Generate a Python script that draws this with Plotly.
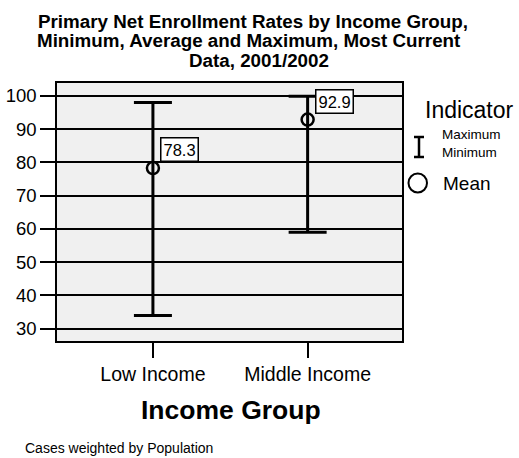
import plotly.graph_objects as go

# Primary net enrollment rates by income group (most current data, 2001/2002)
income_groups = ["Low Income", "Middle Income"]
minimum = [34.0, 59.0]
mean = [78.3, 92.9]
maximum = [98.0, 99.9]

W, H = 519, 458
M_L, M_R, M_T, M_B = 57, 117, 83, 117
PW, PH = W - M_L - M_R, H - M_T - M_B
FONT = "Arial, 'Liberation Sans', sans-serif"


def px_x(px):
    """Horizontal pixel position -> paper coordinate."""
    return (px - M_L) / PW


def px_y(py):
    """Vertical pixel position (from top) -> paper coordinate."""
    return (H - M_B - py) / PH


fig = go.Figure()

fig.add_trace(go.Scatter(
    x=income_groups,
    y=mean,
    mode="markers",
    marker=dict(symbol="circle-open", size=12, color="black",
                line=dict(width=2.5, color="black")),
    error_y=dict(
        type="data",
        symmetric=False,
        array=[mx - m for mx, m in zip(maximum, mean)],
        arrayminus=[m - mn for m, mn in zip(mean, minimum)],
        color="black",
        thickness=3,
        width=19,
    ),
    showlegend=False,
    hoverinfo="skip",
))

# value labels beside each mean
for g, m in zip(income_groups, mean):
    fig.add_annotation(
        x=g, y=m, xref="x", yref="y",
        text=f"{m:.1f}", showarrow=False,
        xanchor="left", yanchor="bottom", xshift=7, yshift=6,
        font=dict(family=FONT, size=16.5, color="black"),
        bgcolor="white", bordercolor="black", borderwidth=1.5, borderpad=2,
    )

# title, written line by line
title_lines = [
    ("Primary Net Enrollment Rates by Income Group,", 253, 21),
    ("Minimum, Average and Maximum, Most Current", 249, 40.5),
    ("Data, 2001/2002", 259, 60),
]
for txt, cx, cy in title_lines:
    fig.add_annotation(
        x=px_x(cx), y=px_y(cy), xref="paper", yref="paper",
        text=f"<b>{txt}</b>", showarrow=False,
        xanchor="center", yanchor="middle",
        font=dict(family=FONT, size=18.8, color="black"),
    )

# axis title
fig.add_annotation(
    x=px_x(231), y=px_y(410), xref="paper", yref="paper",
    text="<b>Income Group</b>", showarrow=False,
    xanchor="center", yanchor="middle",
    font=dict(family=FONT, size=26.5, color="black"),
)

# footnote
fig.add_annotation(
    x=px_x(23), y=px_y(448), xref="paper", yref="paper",
    text="Cases weighted by Population", showarrow=False,
    xanchor="left", yanchor="middle",
    font=dict(family=FONT, size=14, color="black"),
)

# legend block
fig.add_annotation(
    x=px_x(423), y=px_y(110), xref="paper", yref="paper",
    text="Indicator", showarrow=False, xanchor="left", yanchor="middle",
    font=dict(family=FONT, size=23, color="black"),
)
fig.add_annotation(
    x=px_x(440), y=px_y(143.5), xref="paper", yref="paper",
    text="Maximum<br>Minimum", showarrow=False, xanchor="left", yanchor="middle",
    align="left", font=dict(family=FONT, size=13.5, color="black"),
)
fig.add_annotation(
    x=px_x(441), y=px_y(183), xref="paper", yref="paper",
    text="Mean", showarrow=False, xanchor="left", yanchor="middle",
    font=dict(family=FONT, size=19, color="black"),
)
legend_line = dict(color="black", width=2.5)
fig.add_shape(type="line", xref="paper", yref="paper",
              x0=px_x(419), x1=px_x(419), y0=px_y(137), y1=px_y(157),
              line=legend_line)
for yy in (137, 157):
    fig.add_shape(type="line", xref="paper", yref="paper",
                  x0=px_x(414), x1=px_x(424), y0=px_y(yy), y1=px_y(yy),
                  line=legend_line)
fig.add_shape(type="circle", xref="paper", yref="paper",
              x0=px_x(408.5), x1=px_x(427), y0=px_y(173.5), y1=px_y(192.5),
              line=dict(color="black", width=2))

fig.update_xaxes(
    type="category",
    range=[-0.62, 1.61],
    automargin=False,
    showgrid=False, zeroline=False,
    showline=True, mirror=True, linecolor="black", linewidth=1.5,
    ticks="outside", ticklen=15, tickwidth=2, tickcolor="black",
    tickfont=dict(family=FONT, size=19.5, color="black"),
    ticklabelstandoff=0,
)
fig.update_yaxes(
    range=[26.3, 103.9],
    automargin=False,
    dtick=10, tick0=0,
    showgrid=True, gridcolor="black", gridwidth=1.6,
    zeroline=False,
    showline=True, mirror=True, linecolor="black", linewidth=1.5,
    ticks="outside", ticklen=15, tickwidth=2, tickcolor="black",
    tickfont=dict(family=FONT, size=18.5, color="black"),
    ticklabelstandoff=0,
)

fig.update_layout(
    width=W, height=H,
    margin=dict(l=M_L, r=M_R, t=M_T, b=M_B, pad=0, autoexpand=False),
    paper_bgcolor="white",
    plot_bgcolor="#f0f0f0",
    showlegend=False,
    font=dict(family=FONT, color="black"),
)

fig.write_html("out.html")
